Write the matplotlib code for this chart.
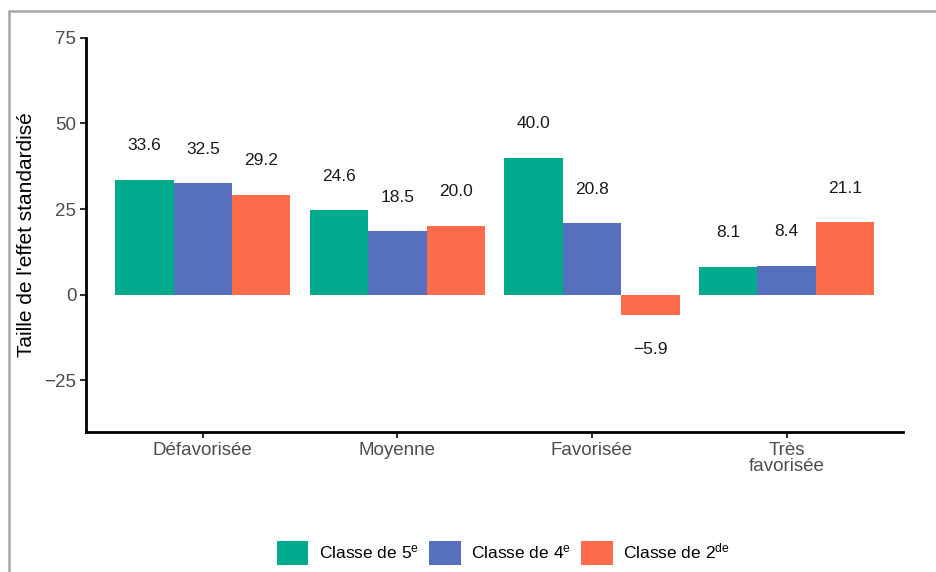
import numpy as np
import matplotlib
matplotlib.use("Agg")
import matplotlib.pyplot as plt
from matplotlib.patches import Rectangle, Patch

plt.rcParams['font.family'] = ['Liberation Sans', 'DejaVu Sans']
plt.rcParams['mathtext.fontset'] = 'custom'
plt.rcParams['mathtext.rm'] = 'Liberation Sans'
plt.rcParams['mathtext.it'] = 'Liberation Sans'

categories = ["Défavorisée", "Moyenne", "Favorisée", "Très\nfavorisée"]
series_names = ["Classe de 5$^{\\mathrm{e}}$", "Classe de 4$^{\\mathrm{e}}$", "Classe de 2$^{\\mathrm{de}}$"]
classe_5 = [33.6, 24.6, 40.0, 8.1]
classe_4 = [32.5, 18.5, 20.8, 8.4]
classe_2 = [29.2, 20.0, -5.9, 21.1]
colors = ["#00AA8C", "#5670BE", "#FF6C4B"]
y_ticks = [-25, 0, 25, 50, 75]

fig = plt.figure(figsize=(9.36, 5.72), dpi=100)
ax = fig.add_axes([0.092, 0.245, 0.873, 0.689])

# grey frame of the screenshot (runs off right and bottom)
fig.add_artist(Rectangle((9 / 936, -0.1), 1.2, 1 - 11 / 572 + 0.1,
                         transform=fig.transFigure, fill=False,
                         edgecolor="#a6a6a6", linewidth=1.8))

x = np.arange(len(categories))
w = 0.3
for i, (vals, col) in enumerate(zip([classe_5, classe_4, classe_2], colors)):
    pos = x + (i - 1) * w
    ax.bar(pos, vals, width=w, color=col, label=series_names[i])
    for px, v in zip(pos, vals):
        off = 10 if v >= 0 else -10
        ax.text(px, v + off, f"{v:.1f}".replace("-", "\u2212"), ha="center", va="center",
                fontsize=12.5, color="#1a1a1a")

ax.set_xlim(-0.6, 3.6)
ax.set_ylim(-40, 75)
ax.set_xticks(x)
ax.set_xticklabels(categories, fontsize=13.5, color="#4d4d4d", linespacing=0.95)
ax.set_yticks(y_ticks)
ax.set_yticklabels([str(t).replace("-", "\u2212") for t in y_ticks], fontsize=13.5, color="#4d4d4d")
ax.set_ylabel("Taille de l'effet standardisé", fontsize=15, color="black", labelpad=6)

for s in ["top", "right"]:
    ax.spines[s].set_visible(False)
for s in ["left", "bottom"]:
    ax.spines[s].set_linewidth(2)
ax.tick_params(axis="both", length=4, width=1.5, color="#333333", pad=3)

handles = [Patch(facecolor=c, label=n) for c, n in zip(colors, series_names)]
fig.legend(handles=handles, loc="center", bbox_to_anchor=(0.538, 0.033), ncol=3,
           frameon=False, fontsize=12.5, handlelength=1.8, handleheight=1.8,
           columnspacing=0.6, handletextpad=0.6)

fig.savefig("out.png", dpi=100)
